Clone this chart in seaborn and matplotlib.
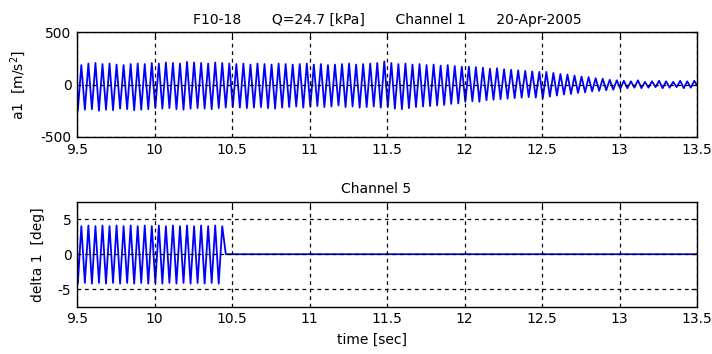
import numpy as np
import pandas as pd
import matplotlib
matplotlib.use("Agg")
import matplotlib.pyplot as plt
import seaborn as sns

# ---------------- data ----------------
t_start, t_end = 9.5, 13.5
period = 1 / 22.0          # ~11 cycles per 0.5 s
first_peak = 9.528

top_peaks = [185, 200, 205, 195, 200, 190, 185, 195, 200, 195, 205,
             200, 210, 205, 200, 215, 210, 205, 200, 210, 205, 200,
             195, 200, 190, 200, 195, 190, 200, 195, 190, 195, 200,
             190, 195, 185, 190, 195, 200, 190, 195, 200, 205, 220,
             205, 195, 200, 190, 195, 185, 190, 180, 185, 175, 170,
             170, 165, 160, 150, 155, 145, 140, 135, 130, 125, 120,
             120, 110, 100, 95, 85, 75, 70, 60, 55, 45, 40,
             35, 30, 40, 25, 30, 35, 30, 25, 35, 30, 35]
top_troughs = [-250, -240, -235, -250, -240, -245, -230, -235, -245, -240, -235,
               -225, -230, -225, -235, -240, -230, -225, -230, -235, -225, -220,
               -215, -220, -225, -220, -215, -225, -230, -220, -215, -210, -220,
               -210, -205, -215, -210, -200, -215, -210, -220, -215, -210, -220,
               -215, -230, -235, -225, -215, -210, -205, -200, -195, -185, -180,
               -165, -160, -165, -150, -145, -140, -135, -130, -125, -120, -125,
               -130, -115, -105, -95, -90, -80, -75, -65, -60, -55, -50,
               -40, -35, -30, -35, -30, -25, -35, -30, -25, -35, -30]
top_start_value, top_end_value = 0, -10

bot_peaks = [4.0, 4.1, 4.0, 4.1, 4.0, 4.1, 4.0, 4.1, 4.0, 4.1, 4.0,
             4.1, 4.0, 4.1, 4.0, 4.1, 4.0, 4.1, 4.0, 4.1, 4.0]
bot_troughs = [-4.2, -4.1, -4.2, -4.1, -4.2, -4.1, -4.2, -4.1, -4.2, -4.1, -4.2,
               -4.1, -4.2, -4.1, -4.2, -4.1, -4.2, -4.1, -4.2, -4.1, -4.2]
bot_start_value = 1.0
bot_stop_time = 10.46

xticks = [9.5, 10, 10.5, 11, 11.5, 12, 12.5, 13, 13.5]
xticklabels = ["9.5", "10", "10.5", "11", "11.5", "12", "12.5", "13", "13.5"]
top_yticks = [-500, 0, 500]
bot_yticks = [-5, 0, 5]

title_top = "F10-18       Q=24.7 [kPa]       Channel 1       20-Apr-2005"
title_bot = "Channel 5"
ylabel_top = "a1  [m/s$^2$]"
ylabel_bot = "delta 1  [deg]"
xlabel = "time [sec]"


def build_series(peaks, troughs, start_val):
    n = len(peaks)
    pk_t = first_peak + period * np.arange(n)
    tr_t = pk_t - period / 2
    xs = [t_start]
    ys = [start_val]
    for a, b, ta, tb in zip(troughs, peaks, tr_t, pk_t):
        xs += [ta, tb]
        ys += [a, b]
    return xs, ys


xt, yt = build_series(top_peaks, top_troughs, top_start_value)
xt.append(t_end); yt.append(top_end_value)
df_top = pd.DataFrame({"t": xt, "v": yt})

xb, yb = build_series(bot_peaks, bot_troughs, bot_start_value)
xb += [bot_stop_time, t_end]; yb += [0, 0]
df_bot = pd.DataFrame({"t": xb, "v": yb})

# ---------------- plotting ----------------
sns.set_style("white")
plt.rcParams["font.family"] = ["DejaVu Sans"]
plt.rcParams["axes.unicode_minus"] = False
plt.rcParams["text.color"] = "black"
plt.rcParams["axes.labelcolor"] = "black"

fig = plt.figure(figsize=(7.12, 3.54), dpi=100)
W, H = 712, 354
ax1 = fig.add_axes([77 / W, 1 - 137 / H, 620 / W, 105 / H])
ax2 = fig.add_axes([77 / W, 1 - 306.7 / H, 620 / W, 105 / H])

blue = "#0000ff"
sns.lineplot(data=df_top, x="t", y="v", ax=ax1, color=blue, linewidth=1.3,
             estimator=None, sort=False, zorder=2)
sns.lineplot(data=df_bot, x="t", y="v", ax=ax2, color=blue, linewidth=1.3,
             estimator=None, sort=False, zorder=2)

for ax, yl, yticks, ylab, tit in [(ax1, (-500, 500), top_yticks, ylabel_top, title_top),
                                  (ax2, (-7.5, 7.5), bot_yticks, ylabel_bot, title_bot)]:
    ax.set_xlim(t_start, t_end)
    ax.set_ylim(*yl)
    ax.set_xticks(xticks)
    ax.set_xticklabels(xticklabels)
    ax.set_yticks(yticks)
    ax.set_yticklabels([str(v) for v in yticks])
    ax.set_axisbelow(False)
    ax.grid(True, color="black", linestyle=(0, (3, 3)), linewidth=0.9, zorder=3)
    for s in ax.spines.values():
        s.set_color("black")
        s.set_linewidth(1.0)
        s.set_visible(True)
    ax.tick_params(direction="in", length=4, top=True, right=True, labelsize=10,
                   colors="black", pad=4)
    ax.set_ylabel(ylab, fontsize=10, labelpad=9, color="black")
    ax.set_xlabel("")
    ax.set_title(tit, fontsize=10, pad=6, color="black")

ax2.title.set_position((0.483, 1.0))
ax2.set_xlabel(xlabel, fontsize=10, color="black")
ax2.xaxis.set_label_coords(0.476, -0.317)
ax2.xaxis.label.set_va("center")

fig.savefig("out.png", dpi=100)
